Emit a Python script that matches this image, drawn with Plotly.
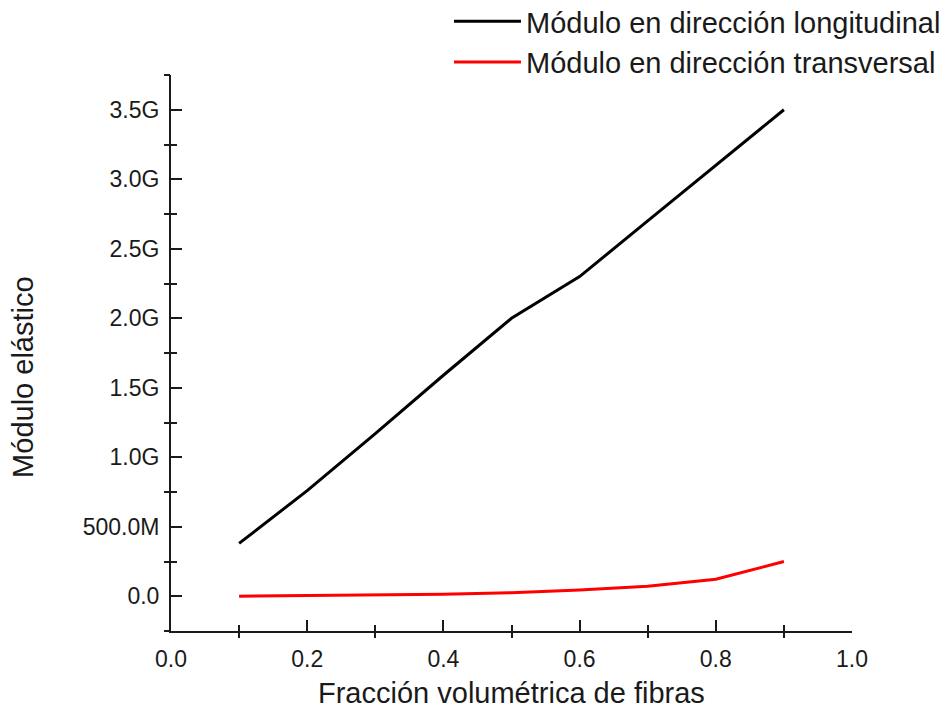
import plotly.graph_objects as go

# Data
fraccion = [0.1, 0.2, 0.3, 0.4, 0.5, 0.6, 0.7, 0.8, 0.9]
modulo_longitudinal = [0.38e9, 0.76e9, 1.17e9, 1.59e9, 2.0e9, 2.3e9, 2.7e9, 3.1e9, 3.5e9]
modulo_transversal = [0.0, 0.004e9, 0.008e9, 0.014e9, 0.025e9, 0.045e9, 0.072e9, 0.122e9, 0.25e9]

x_ticks = [0.0, 0.2, 0.4, 0.6, 0.8, 1.0]
x_ticktext = ["0.0", "0.2", "0.4", "0.6", "0.8", "1.0"]
x_minor = [0.1, 0.3, 0.5, 0.7, 0.9]
y_ticks = [0, 0.5e9, 1.0e9, 1.5e9, 2.0e9, 2.5e9, 3.0e9, 3.5e9]
y_ticktext = ["0.0", "500.0M", "1.0G", "1.5G", "2.0G", "2.5G", "3.0G", "3.5G"]
y_minor = [-0.25e9, 0.25e9, 0.75e9, 1.25e9, 1.75e9, 2.25e9, 2.75e9, 3.25e9, 3.75e9]

FONT = "Liberation Sans, Arial, sans-serif"
INK = "#1a1a1a"

# figure is drawn inside the page's 8px body margin
W, H = 939, 703
L, R, T, B = 163, 95, 67, 80
PW, PH = W - L - R, H - T - B

fig = go.Figure()
fig.add_trace(go.Scatter(x=fraccion, y=modulo_longitudinal, mode="lines",
                         name="Módulo en dirección longitudinal",
                         line=dict(color="black", width=3)))
fig.add_trace(go.Scatter(x=fraccion, y=modulo_transversal, mode="lines",
                         name="Módulo en dirección transversal",
                         line=dict(color="#ff0000", width=3)))

axis_common = dict(showline=True, linewidth=2, linecolor=INK, showgrid=False,
                   zeroline=False, tickcolor=INK, tickwidth=2)

fig.update_layout(
    width=W, height=H,
    margin=dict(l=L, r=R, t=T, b=B, autoexpand=False),
    paper_bgcolor="white", plot_bgcolor="white",
    font=dict(family=FONT, color=INK, size=23),
    xaxis=dict(range=[0, 1], tickmode="array", tickvals=x_ticks, ticktext=x_ticktext,
               ticks="inside", ticklen=11, ticklabelstandoff=6,
               minor=dict(tickmode="array", tickvals=x_minor, ticks="inside", ticklen=6,
                          tickwidth=2, tickcolor=INK),
               **axis_common),
    xaxis2=dict(range=[0, 1], overlaying="x", anchor="y", side="bottom",
                tickmode="array", tickvals=x_minor, ticks="outside", ticklen=6,
                showticklabels=False, showline=False, showgrid=False, zeroline=False,
                tickcolor=INK, tickwidth=2),
    yaxis=dict(range=[-0.25e9, 3.75e9], tickmode="array", tickvals=y_ticks, ticktext=y_ticktext,
               ticks="inside", ticklen=11, ticklabelstandoff=5,
               minor=dict(tickmode="array", tickvals=y_minor, ticks="inside", ticklen=6,
                          tickwidth=2, tickcolor=INK),
               **axis_common),
    yaxis2=dict(range=[-0.25e9, 3.75e9], overlaying="y", anchor="x", side="left",
                tickmode="array", tickvals=y_minor, ticks="outside", ticklen=6,
                showticklabels=False, showline=False, showgrid=False, zeroline=False,
                tickcolor=INK, tickwidth=2),
    legend=dict(x=(441 - L) / PW, y=(PH + T + 12) / PH, xanchor="left", yanchor="top",
                font=dict(size=29, family=FONT, color=INK), bgcolor="rgba(0,0,0,0)",
                itemwidth=67, tracegroupgap=0),
    showlegend=True,
    annotations=[
        dict(text="Fracción volumétrica de fibras", xref="paper", yref="paper",
             x=0.5, y=-62 / PH, xanchor="center", yanchor="middle", showarrow=False,
             font=dict(size=29, family=FONT, color=INK)),
        dict(text="Módulo elástico", xref="paper", yref="paper", textangle=-90,
             x=(15 - L) / PW, y=0.457, xanchor="center", yanchor="middle", showarrow=False,
             font=dict(size=29, family=FONT, color=INK)),
    ],
)
# invisible trace to activate the overlay axes that carry the outer halves of minor ticks
fig.add_trace(go.Scatter(x=[None], y=[None], xaxis="x2", yaxis="y2", showlegend=False,
                         hoverinfo="skip"))

fig.write_html("out.html")
